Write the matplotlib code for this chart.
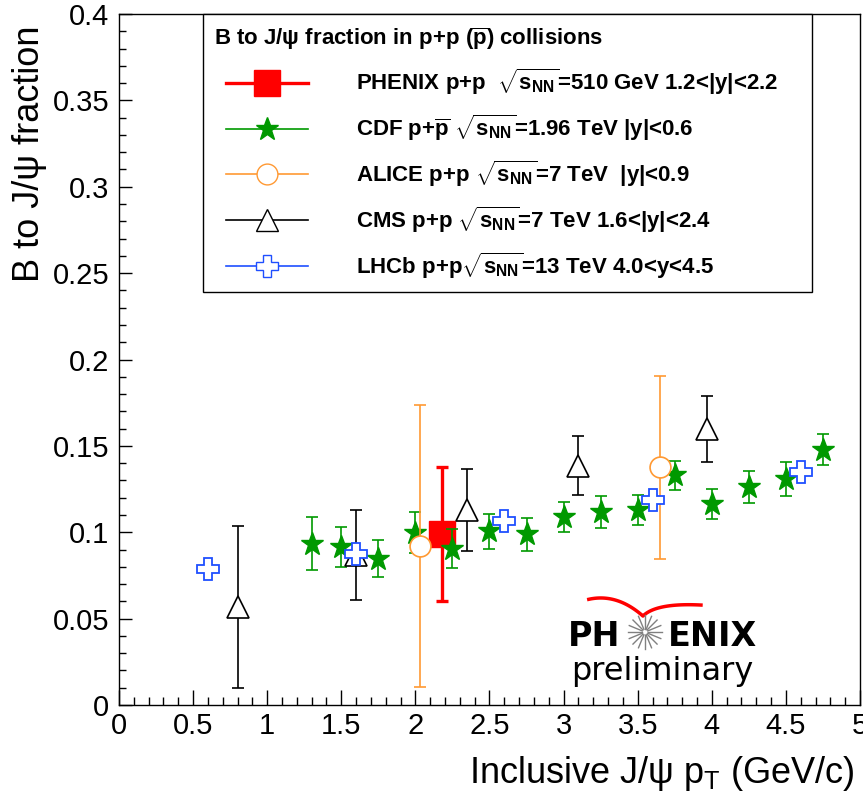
"""
Fraccion de J/psi provenientes de mesones B en colisiones p+p, varios experimentos.
"""
import numpy as np
import matplotlib.pyplot as plt
from matplotlib.lines import Line2D
from matplotlib.legend_handler import HandlerLine2D
from matplotlib.ticker import MultipleLocator

plt.rcParams['font.family'] = ['Liberation Sans', 'DejaVu Sans']
plt.rcParams['mathtext.fontset'] = 'custom'
plt.rcParams['mathtext.rm'] = 'Liberation Sans'
plt.rcParams['mathtext.it'] = 'Liberation Sans:italic'
plt.rcParams['mathtext.bf'] = 'Liberation Sans:bold'

#<---------------------------Datos---------------------------->
phenix_x = [2.18]
phenix_y = [0.099]
phenix_err = [0.039]

cdf_x = [1.3, 1.5, 1.75, 2.0, 2.25, 2.5, 2.75, 3.0, 3.25, 3.5, 3.75, 4.0, 4.25, 4.5, 4.75]
cdf_y = [0.0935, 0.0915, 0.0848, 0.0998, 0.0906, 0.1006, 0.0988, 0.1088, 0.1117,
         0.1131, 0.133, 0.1166, 0.1262, 0.131, 0.1478]
cdf_err = [0.0155, 0.0117, 0.0108, 0.012, 0.0113, 0.010, 0.0094, 0.0085, 0.0093,
           0.0087, 0.0085, 0.0087, 0.0092, 0.0099, 0.009]

alice_x = [2.03, 3.65]
alice_y = [0.092, 0.1376]
alice_err = [0.0816, 0.0528]

cms_x = [0.8, 1.6, 2.35, 3.1, 3.97]
cms_y = [0.0569, 0.0867, 0.1127, 0.1386, 0.1597]
cms_err = [0.0469, 0.026, 0.0237, 0.017, 0.019]

lhcb_x = [0.6, 1.6, 2.6, 3.6, 4.6]
lhcb_y = [0.079, 0.0877, 0.1065, 0.1189, 0.1349]

labels = [
    r'PHENIX p+p  $\sqrt{\mathbf{s}_{\mathbf{NN}}}$=510 GeV 1.2<|y|<2.2',
    r'CDF p+$\mathbf{\overline{p}}$ $\sqrt{\mathbf{s}_{\mathbf{NN}}}$=1.96 TeV |y|<0.6',
    r'ALICE p+p $\sqrt{\mathbf{s}_{\mathbf{NN}}}$=7 TeV  |y|<0.9',
    r'CMS p+p $\sqrt{\mathbf{s}_{\mathbf{NN}}}$=7 TeV 1.6<|y|<2.4',
    r'LHCb p+p$\sqrt{\mathbf{s}_{\mathbf{NN}}}$=13 TeV 4.0<y<4.5',
]

red = '#ff0000'
green = '#009900'
orange = '#ff9933'
blue = '#1f4fff'

#<---------------------------Figura---------------------------->
fig = plt.figure(figsize=(8.63, 7.99), dpi=100)
ax = fig.add_axes([0.1379, 0.1176, 0.8586, 0.8649])

ax.errorbar(phenix_x, phenix_y, yerr=phenix_err, fmt='s', color=red, ms=19,
            elinewidth=2.4, capsize=4, capthick=2.4, zorder=3)
ax.errorbar(cdf_x, cdf_y, yerr=cdf_err, fmt='*', color=green, ms=17,
            elinewidth=1.2, capsize=4, capthick=1.2, zorder=4)
ax.errorbar(alice_x, alice_y, yerr=alice_err, fmt='o', color=orange, mfc='white',
            mec=orange, ms=15, mew=1.2, elinewidth=1.2, capsize=4, capthick=1.2, zorder=5)
ax.errorbar(cms_x, cms_y, yerr=cms_err, fmt='^', color='black', mfc='white',
            ms=16, mew=1.2, elinewidth=1.2, capsize=4, capthick=1.2, zorder=6)
ax.plot(lhcb_x, lhcb_y, 'P', color=blue, mfc='white', mec=blue, ms=16, mew=1.3,
        ls='none', zorder=7)

ax.set_xlim(0, 5)
ax.set_ylim(0, 0.4)
ax.xaxis.set_minor_locator(MultipleLocator(0.1))
ax.yaxis.set_minor_locator(MultipleLocator(0.01))
ax.set_xticks(np.arange(0, 5.01, 0.5))
ax.set_xticklabels(['0', '0.5', '1', '1.5', '2', '2.5', '3', '3.5', '4', '4.5', '5'])
ax.set_yticks(np.arange(0, 0.401, 0.05))
ax.set_yticklabels(['0', '0.05', '0.1', '0.15', '0.2', '0.25', '0.3', '0.35', '0.4'])
ax.tick_params(axis='both', which='both', direction='in', top=False, right=False,
               labelsize=21, width=1)
ax.tick_params(axis='x', which='major', length=11, pad=5)
ax.tick_params(axis='x', which='minor', length=6)
ax.tick_params(axis='y', which='major', length=9, pad=7)
ax.tick_params(axis='y', which='minor', length=5)
for s in ax.spines.values():
    s.set_linewidth(1)

ax.set_ylabel('B to J/\u03c8 fraction', loc='top', fontsize=26, labelpad=4)
ax.yaxis.label.set_y(0.984)
ax.set_xlabel('Inclusive J/\u03c8 p$_{\\mathrm{T}}$ (GeV/c)', loc='right', fontsize=26,
              labelpad=10)
ax.xaxis.label.set_x(0.993)

#<---------------------------Leyenda---------------------------->
handles = [
    Line2D([], [], color=red, marker='s', ms=19, lw=2.4),
    Line2D([], [], color=green, marker='*', ms=17, lw=1.2),
    Line2D([], [], color=orange, marker='o', mfc='white', ms=15, lw=1.2),
    Line2D([], [], color='black', marker='^', mfc='white', ms=16, lw=1.2),
    Line2D([], [], color=blue, marker='P', mfc='white', ms=16, lw=1.2),
]
leg = ax.legend(handles, labels,
                title='B to J/\u03c8 fraction in p+p ($\\mathbf{\\overline{p}}$) collisions',
                loc='upper left', bbox_to_anchor=(0.113, 0.5, 0.822, 0.5), mode='expand',
                borderaxespad=0,
                prop={'weight': 'bold', 'size': 16},
                title_fontproperties={'weight': 'bold', 'size': 16},
                handlelength=4.25, handletextpad=2.15, labelspacing=0.68,
                borderpad=0.5, fancybox=False, framealpha=1, edgecolor='black',
                alignment='left',
                handler_map={Line2D: HandlerLine2D(xpad=0.55)})
leg.get_frame().set_linewidth(1)

#<---------------------------Logo---------------------------->
t = np.linspace(0, 1, 40)
p0, c0, p1 = np.array([0.634, 0.153]), np.array([0.672, 0.162]), np.array([0.7071, 0.1288])
c1, p2 = np.array([0.725, 0.148]), np.array([0.7854, 0.1447])
seg1 = np.outer((1 - t) ** 2, p0) + np.outer(2 * t * (1 - t), c0) + np.outer(t ** 2, p1)
seg2 = np.outer((1 - t) ** 2, p1) + np.outer(2 * t * (1 - t), c1) + np.outer(t ** 2, p2)
curve = np.vstack([seg1, seg2])
ax.plot(curve[:, 0], curve[:, 1], color=red, lw=2.5, transform=ax.transAxes, clip_on=False)

cx, cy = 0.7099, 0.1056
for a in np.linspace(0, 2 * np.pi, 16, endpoint=False):
    ax.plot([cx + 0.004 * np.cos(a), cx + 0.023 * np.cos(a)],
            [cy + 0.0043 * np.sin(a), cy + 0.0246 * np.sin(a)],
            color='gray', lw=1, transform=ax.transAxes)
ax.text(0.676, 0.0854, 'PH', transform=ax.transAxes, ha='right', va='baseline',
        fontsize=24, weight='bold', family='DejaVu Sans')
ax.text(0.741, 0.0854, 'ENIX', transform=ax.transAxes, ha='left', va='baseline',
        fontsize=24, weight='bold', family='DejaVu Sans')
ax.text(0.7328, 0.036, 'preliminary', transform=ax.transAxes, ha='center', va='baseline',
        fontsize=23, family='DejaVu Sans')

plt.savefig('out.png', dpi=100)
